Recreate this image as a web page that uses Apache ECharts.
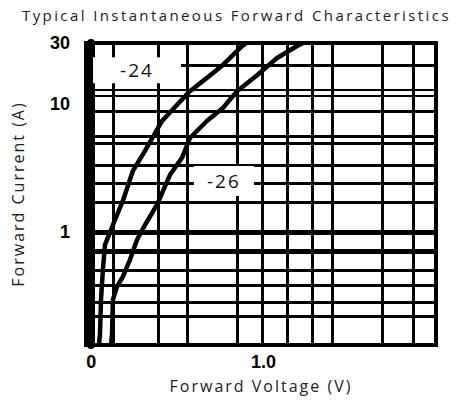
<!DOCTYPE html>
<html>
<head>
<meta charset="utf-8">
<script src="https://cdn.jsdelivr.net/npm/echarts@6/dist/echarts.min.js"></script>
<style>
html,body{margin:0;padding:0;background:#fff;}
#c{width:456px;height:405px;}
#c text[style*="Open Sans"]{letter-spacing:2px;}
#c text[style*="Open Sans"][style*="15px"]{letter-spacing:2.4px;}
</style>
</head>
<body>
<div id="c"></div>
<script>
// Curve -24: [forward voltage (V), forward current (A)]
var curve24 = [[0.045,0.13],[0.051,0.157],[0.057,0.294],[0.068,0.505],[0.080,0.79],[0.126,1.13],[0.184,1.75],[0.242,3.0],[0.312,4.29],[0.411,7.36],[0.497,9.82],[0.573,12.6],[0.671,16.0],[0.764,20.2],[0.863,27.4],[0.898,30]];
// Curve -26
var curve26 = [[0.115,0.13],[0.121,0.157],[0.126,0.294],[0.150,0.372],[0.184,0.445],[0.225,0.604],[0.266,0.866],[0.312,1.13],[0.382,1.63],[0.457,2.79],[0.527,3.79],[0.573,5.42],[0.671,7.36],[0.764,9.3],[0.846,12.6],[0.962,16.8],[1.078,22.9],[1.194,28.4],[1.229,30]];
// Curve tags: [V, A, text]
var curveTags = [[0.266,18.4,'-24'],[0.770,2.5,'-26']];
// Grid line values
var vGrid = [0.13,0.39,0.56,0.85,0.99,1.14,1.28,1.4,1.69,1.87];
var hGrid = [0.22,0.28,0.38,0.5,0.69,0.72,1.7,2.4,3.3,4.9,5.6,8.8,11.5,13,20];
var hMain = [1];
var xTickValues = [0,1];
var xTickLabels = ['0','1.0'];
var yTickLabels = [1,10,30];
var xRange = [-0.03,2.0];
var yRange = [0.13,30];

var chart = echarts.init(document.getElementById('c'), null, {renderer:'svg'});
var gridLines = [];
vGrid.forEach(function(v){ gridLines.push({xAxis:v, lineStyle:{width:3}}); });
hGrid.forEach(function(v){ gridLines.push({yAxis:v, lineStyle:{width:(v>11&&v<14)?2:3}}); });
hMain.forEach(function(v){ gridLines.push({yAxis:v, lineStyle:{width:5}}); });

var tagSizes = [[88,26],[60,30]];

chart.setOption({
  animation:false,
  title:{text:'Typical Instantaneous Forward Characteristics',left:17,top:2,
    textStyle:{fontFamily:'Open Sans',fontSize:15,fontWeight:'normal',color:'#222'}},
  grid:{left:86,right:20,top:43,bottom:60,show:true,borderColor:'#000',borderWidth:4},
  xAxis:{type:'value',min:xRange[0],max:xRange[1],
    name:'Forward Voltage (V)',nameLocation:'middle',nameGap:33,
    nameTextStyle:{fontFamily:'Open Sans',fontSize:16,color:'#222'},
    axisLine:{show:false},axisTick:{show:false},splitLine:{show:false},
    axisLabel:{margin:8,fontFamily:'Liberation Sans',fontWeight:'bold',fontSize:18,color:'#000',
      customValues:xTickValues,
      formatter:function(v){ for(var i=0;i<xTickValues.length;i++){ if(Math.abs(v-xTickValues[i])<1e-6) return xTickLabels[i]; } return ''; }}},
  yAxis:{type:'log',logBase:10,min:yRange[0],max:yRange[1],
    name:'Forward Current (A)',nameLocation:'middle',nameGap:60,
    nameTextStyle:{fontFamily:'Open Sans',fontSize:16,color:'#222'},
    axisLine:{show:true,lineStyle:{color:'#000',width:8}},axisTick:{show:false},splitLine:{show:false},
    axisLabel:{margin:16,fontFamily:'Liberation Sans',fontWeight:'bold',fontSize:18,color:'#000',showMaxLabel:true,showMinLabel:false,
      formatter:function(v){ for(var i=0;i<yTickLabels.length;i++){ if(Math.abs(v-yTickLabels[i])/yTickLabels[i]<0.02) return String(yTickLabels[i]); } return ''; }}},
  series:[
    {type:'line',data:[],z:1,silent:true,
      markLine:{silent:true,symbol:['none','none'],label:{show:false},animation:false,
        lineStyle:{color:'#000',type:'solid',width:3},data:gridLines}},
    {type:'line',name:'-24',data:curve24,showSymbol:false,symbol:'none',z:3,lineStyle:{color:'#000',width:4.5},silent:true},
    {type:'line',name:'-26',data:curve26,showSymbol:false,symbol:'none',z:3,lineStyle:{color:'#000',width:4.5},silent:true},
    {type:'line',data:[],z:4,silent:true,
      markPoint:{silent:true,animation:false,
        data:curveTags.map(function(t,i){return {coord:[t[0],t[1]],name:t[2],symbol:'rect',symbolSize:tagSizes[i],
          itemStyle:{color:'#fff',borderWidth:0}};}),
        label:{show:true,position:'inside',formatter:'{b}',fontFamily:'Open Sans',fontSize:19,color:'#111'}}}
  ]
});
</script>
</body>
</html>
